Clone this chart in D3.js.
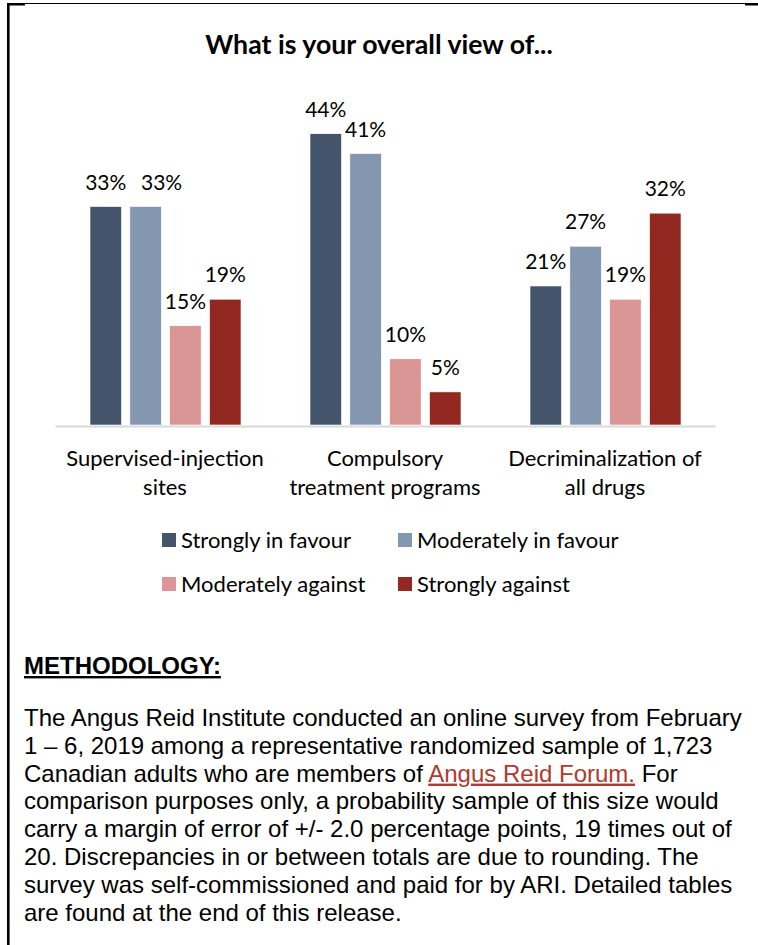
<!DOCTYPE html>
<html>
<head>
<meta charset="utf-8">
<script src="https://cdn.jsdelivr.net/npm/d3@7"></script>
<style>
  html, body { margin: 0; padding: 0; background: #fff; }
  svg { display: block; }
</style>
</head>
<body>
<svg id="chart" width="758" height="945"></svg>
<script>
const categories = ["Supervised-injection sites", "Compulsory treatment programs", "Decriminalization of all drugs"];
const categoryLines = [["Supervised-injection", "sites"], ["Compulsory", "treatment programs"], ["Decriminalization of", "all drugs"]];
const seriesNames = ["Strongly in favour", "Moderately in favour", "Moderately against", "Strongly against"];
const stronglyInFavour = [33, 44, 21];
const moderatelyInFavour = [33, 41, 27];
const moderatelyAgainst = [15, 10, 19];
const stronglyAgainst = [19, 5, 32];
const seriesColors = ["#44546A", "#8497B0", "#DA9694", "#922820"];
const titleText = "What is your overall view of...";
const methodologyHeading = "METHODOLOGY:";
const methodologyLines = [
  [["The Angus Reid Institute conducted an online survey from February", false]],
  [["1 \u2013 6, 2019 among a representative randomized sample of 1,723", false]],
  [["Canadian adults who are members of ", false], ["Angus Reid Forum.", true], [" For", false]],
  [["comparison purposes only, a probability sample of this size would", false]],
  [["carry a margin of error of +/- 2.0 percentage points, 19 times out of", false]],
  [["20. Discrepancies in or between totals are due to rounding. The", false]],
  [["survey was self-commissioned and paid for by ARI. Detailed tables", false]],
  [["are found at the end of this release.", false]]
];

const seriesValues = [stronglyInFavour, moderatelyInFavour, moderatelyAgainst, stronglyAgainst];
const rows = categories.map((c, i) => ({
  category: c,
  values: seriesNames.map((s, j) => ({ series: s, value: seriesValues[j][i], color: seriesColors[j], ci: i, si: j }))
}));

// label nudges (to avoid overlapping labels, as in the original)
const labelShift = (d) => (d.ci === 0 && d.si === 1) ? 16 : 0;

const svg = d3.select("#chart");
const chartFont = "Lato, 'Open Sans', sans-serif";
const bodyFont = "'Liberation Sans', Arial, sans-serif";

// frame
svg.append("rect").attr("x", 7).attr("y", 3).attr("width", 2.6).attr("height", 942).attr("fill", "#000");
svg.append("line").attr("x1", 8).attr("x2", 758).attr("y1", 3.5).attr("y2", 3.5).attr("stroke", "#000").attr("stroke-width", 1);
svg.append("rect").attr("x", 7).attr("y", 3).attr("width", 18).attr("height", 2.5).attr("fill", "#000");
svg.append("rect").attr("x", 745).attr("y", 3).attr("width", 13).attr("height", 2.5).attr("fill", "#000");

// title
svg.append("text").attr("x", 379).attr("y", 54)
  .attr("text-anchor", "middle")
  .attr("font-family", chartFont).attr("font-weight", "bold").attr("font-size", 26.7)
  .attr("fill", "#000").text(titleText);

const x0 = d3.scaleBand().domain(categories).range([55, 715]).padding(0);
const x1 = d3.scaleBand().domain(seriesNames).range([35, 186]).paddingInner(0.21).paddingOuter(0);
const y = d3.scaleLinear().domain([0, 50]).range([425, 94]);

const groups = svg.append("g").selectAll("g").data(rows).join("g")
  .attr("transform", d => `translate(${x0(d.category)},0)`);

groups.selectAll("rect").data(d => d.values).join("rect")
  .attr("x", d => x1(d.series))
  .attr("width", x1.bandwidth())
  .attr("y", d => y(d.value))
  .attr("height", d => y(0) - y(d.value))
  .attr("fill", d => d.color)
  .attr("stroke", "#fff").attr("stroke-width", 0.6);

groups.selectAll("text.val").data(d => d.values).join("text")
  .attr("class", "val")
  .attr("x", d => x1(d.series) + x1.bandwidth() / 2 + labelShift(d))
  .attr("y", d => y(d.value) - 17)
  .attr("text-anchor", "middle")
  .attr("font-family", chartFont).attr("font-size", 21)
  .attr("fill", "#000")
  .text(d => d.value + "%");

// axis
const axis = svg.append("g").attr("transform", "translate(0,426)")
  .call(d3.axisBottom(x0).tickSize(0).tickSizeOuter(0).tickFormat(""));
axis.select(".domain").attr("stroke", "#D9D9D9").attr("stroke-width", 2);

const catText = svg.append("g").selectAll("text").data(categories).join("text")
  .attr("text-anchor", "middle")
  .attr("font-family", chartFont).attr("font-size", 22)
  .attr("fill", "#000");
catText.selectAll("tspan").data((d, i) => categoryLines[i]).join("tspan")
  .attr("x", function() { const c = d3.select(this.parentNode).datum(); return x0(c) + x0.bandwidth() / 2; })
  .attr("y", (d, i) => 466 + i * 29)
  .text(d => d);

// legend
const legendPos = [[162, 548], [398, 548], [162, 592], [398, 592]];
const legend = svg.append("g").selectAll("g").data(seriesNames).join("g")
  .attr("transform", (d, i) => `translate(${legendPos[i][0]},${legendPos[i][1]})`);
legend.append("rect").attr("x", 0).attr("y", -15).attr("width", 14).attr("height", 14)
  .attr("fill", (d, i) => seriesColors[i]);
legend.append("text").attr("x", 19).attr("y", 0)
  .attr("font-family", chartFont).attr("font-size", 22).attr("fill", "#000")
  .text(d => d);

// methodology
svg.append("text").attr("x", 24).attr("y", 674)
  .attr("font-family", bodyFont).attr("font-weight", "bold").attr("font-size", 24)
  .attr("text-decoration", "underline").attr("fill", "#000")
  .text(methodologyHeading);

const body = svg.append("g").selectAll("text").data(methodologyLines).join("text")
  .attr("x", 24).attr("y", (d, i) => 726 + i * 27.8)
  .attr("font-family", bodyFont).attr("font-size", 24).attr("fill", "#000");
body.selectAll("tspan").data(d => d).join("tspan")
  .attr("fill", d => d[1] ? "#B03A2E" : "#000")
  .attr("text-decoration", d => d[1] ? "underline" : null)
  .text(d => d[0]);
</script>
</body>
</html>
